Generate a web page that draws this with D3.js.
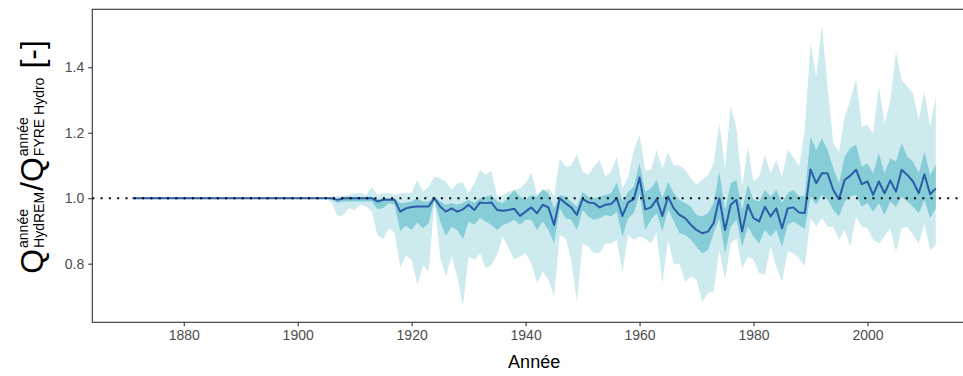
<!DOCTYPE html>
<html><head><meta charset="utf-8">
<script src="https://cdn.jsdelivr.net/npm/d3@7"></script>
<style>body{margin:0;background:#fff}svg{display:block}text{font-family:"Liberation Sans",Arial,sans-serif}</style>
</head><body><svg id="c" width="963" height="376"></svg>
<script>
const firstYear = 1871, lastYear = 2012;
const years = d3.range(firstYear, lastYear + 1);
const meanRatio = [
 1,1,1,1,1,1,1,1,1,1,
 1,1,1,1,1,1,1,1,1,1,
 1,1,1,1,1,1,1,1,1,1,
 1,1,1,1,1,1,0.995,1,1,1,
 1,1,1,0.99,0.995,0.995,0.995,0.959,0.969,0.973,
 0.975,0.975,0.975,1.0,0.975,0.959,0.969,0.959,0.966,0.98,
 0.964,0.987,0.985,0.987,0.964,0.962,0.964,0.968,0.946,0.959,
 0.972,0.954,0.98,0.972,0.918,1.0,0.985,0.972,0.949,0.998,
 0.987,0.985,0.972,0.98,0.982,1.0,0.946,0.987,0.997,1.063,
 0.966,0.972,0.997,0.946,1.005,0.969,0.949,0.939,0.919,0.903,
 0.893,0.898,0.924,1.0,0.903,0.98,0.995,0.898,0.98,0.939,
 0.929,0.974,0.944,0.969,0.908,0.969,0.972,0.956,0.955,1.088,
 1.046,1.076,1.076,1.025,0.997,1.056,1.069,1.087,1.043,1.051,
 1.01,1.051,1.015,1.054,1.02,1.087,1.071,1.051,1.015,1.073,
 1.012,1.03
];
const innerHigh = [
 1,1,1,1,1,1,1,1,1,1,
 1,1,1,1,1,1,1,1,1,1,
 1,1,1,1,1,1,1,1,1,1,
 1,1,1,1,1,1.0,0.998,1.003,1.003,1.003,
 1.003,1.003,1.005,0.995,1.0,1.0,1.0,0.985,0.987,0.99,
 1.0,0.99,0.99,1.005,0.99,0.98,0.985,0.98,0.985,0.995,
 0.985,1.0,1.005,1.01,0.99,0.985,1.005,1.025,1.005,0.995,
 1.01,1.005,1.027,1.015,0.969,1.01,1.005,0.99,0.974,1.02,
 1.005,1.0,1.005,1.01,1.015,1.048,0.99,1.02,1.036,1.107,
 1.02,1.03,1.056,1.0,1.05,1.015,0.995,0.985,0.974,0.949,
 0.944,0.954,0.985,1.081,0.964,1.046,1.056,0.964,1.041,0.995,
 0.99,1.025,1.005,1.025,0.985,1.015,1.025,1.005,1.008,1.188,
 1.147,1.183,1.147,1.092,1.046,1.127,1.153,1.163,1.097,1.107,
 1.076,1.137,1.076,1.122,1.112,1.168,1.127,1.112,1.076,1.142,
 1.071,1.102
];
const innerLow = [
 1,1,1,1,1,1,1,1,1,1,
 1,1,1,1,1,1,1,1,1,1,
 1,1,1,1,1,1,1,1,1,1,
 1,1,1,1,1,0.995,0.985,0.99,0.99,0.99,
 0.99,0.99,0.99,0.966,0.97,0.985,0.98,0.90,0.916,0.903,
 0.926,0.908,0.924,0.995,0.93,0.885,0.913,0.903,0.875,0.929,
 0.919,0.94,0.929,0.918,0.903,0.918,0.924,0.934,0.918,0.934,
 0.934,0.903,0.929,0.903,0.862,0.969,0.939,0.934,0.903,0.964,
 0.944,0.934,0.939,0.949,0.944,0.959,0.883,0.939,0.954,1.015,
 0.903,0.934,0.954,0.9,0.966,0.93,0.893,0.888,0.873,0.852,
 0.832,0.842,0.893,0.939,0.832,0.913,0.934,0.852,0.913,0.883,
 0.862,0.903,0.883,0.903,0.852,0.918,0.929,0.918,0.905,1.005,
 0.98,1.01,0.995,0.964,0.944,0.99,1.005,1.01,0.974,0.985,
 0.959,0.985,0.949,0.99,0.974,1.005,0.99,0.974,0.954,0.995,
 0.939,0.969
];
const outerHigh = [
 1,1,1,1,1,1,1,1,1,1,
 1,1,1,1,1,1,1,1,1,1,
 1,1,1,1,1,1,1,1,1,1,
 1,1,1,1,1,1.005,1.007,1.007,1.01,1.015,
 1.015,1.01,1.034,1.01,1.015,1.015,1.01,1.015,1.015,1.017,
 1.056,1.02,1.035,1.066,1.061,1.051,1.025,1.046,1.049,1.015,
 1.046,1.086,1.071,1.084,1.005,1.01,1.02,1.025,1.03,1.046,
 1.078,1.01,1.02,1.03,1.005,1.122,1.097,1.099,1.135,1.081,
 1.071,1.097,1.117,1.066,1.081,1.127,1.03,1.066,1.147,1.193,
 1.086,1.086,1.147,1.09,1.14,1.10,1.10,1.086,1.061,1.041,
 1.056,1.071,1.107,1.229,1.091,1.28,1.214,1.036,1.158,1.051,
 1.066,1.132,1.076,1.117,1.066,1.147,1.127,1.096,1.21,1.473,
 1.371,1.529,1.341,1.168,1.142,1.249,1.30,1.366,1.219,1.224,
 1.198,1.341,1.229,1.295,1.448,1.361,1.341,1.32,1.239,1.326,
 1.219,1.31
];
const outerLow = [
 1,1,1,1,1,1,1,1,1,1,
 1,1,1,1,1,1,1,1,1,1,
 1,1,1,1,1,1,1,1,1,1,
 1,1,1,1,1,0.985,0.944,0.949,0.969,0.964,
 0.98,0.975,0.959,0.888,0.875,0.908,0.895,0.791,0.824,0.812,
 0.735,0.796,0.776,0.99,0.82,0.761,0.822,0.761,0.669,0.822,
 0.812,0.832,0.786,0.796,0.827,0.883,0.847,0.812,0.822,0.832,
 0.801,0.740,0.776,0.751,0.70,0.888,0.878,0.812,0.684,0.862,
 0.852,0.832,0.832,0.862,0.862,0.873,0.776,0.888,0.873,0.883,
 0.878,0.862,0.893,0.74,0.873,0.80,0.80,0.745,0.761,0.751,
 0.684,0.71,0.715,0.842,0.751,0.862,0.878,0.786,0.822,0.812,
 0.771,0.766,0.852,0.791,0.745,0.837,0.832,0.817,0.793,0.939,
 0.913,0.939,0.913,0.913,0.873,0.903,0.852,0.944,0.913,0.908,
 0.873,0.862,0.883,0.908,0.837,0.908,0.913,0.888,0.862,0.923,
 0.842,0.857
];
const xTicks = [1880, 1900, 1920, 1940, 1960, 1980, 2000];
const yTicks = [0.8, 1.0, 1.2, 1.4];
const refValue = 1;

const svg = d3.select("#c");
const pL = 92.3, pT = 9.3, pR = 976, pB = 322.3;
const pad = (lastYear - firstYear) * 0.05;
const x = d3.scaleLinear().domain([firstYear - pad, lastYear + pad]).range([pL, pR]);
const y = d3.scaleLinear().domain([0.621, 1.577]).range([pB, pT]);

const rows = years.map((yr, i) => ({yr, m: meanRatio[i], iH: innerHigh[i], iL: innerLow[i], oH: outerHigh[i], oL: outerLow[i]}));

svg.append("path").datum(rows).attr("fill", "#cdebef")
  .attr("d", d3.area().x(d => x(d.yr)).y0(d => y(d.oL)).y1(d => y(d.oH)));
svg.append("path").datum(rows).attr("fill", "#86cdd7")
  .attr("d", d3.area().x(d => x(d.yr)).y0(d => y(d.iL)).y1(d => y(d.iH)));
svg.append("path").datum(rows).attr("fill", "none").attr("stroke", "#2a5ca8")
  .attr("stroke-width", 2).attr("stroke-linejoin", "round")
  .attr("d", d3.line().x(d => x(d.yr)).y(d => y(d.m)));
svg.append("line").attr("x1", pL).attr("x2", pR).attr("y1", y(refValue)).attr("y2", y(refValue))
  .attr("stroke", "#000").attr("stroke-width", 2).attr("stroke-dasharray", "2,6.3");

svg.append("rect").attr("x", pL).attr("y", pT).attr("width", pR - pL).attr("height", pB - pT)
  .attr("fill", "none").attr("stroke", "#333").attr("stroke-width", 1.1);

const gx = svg.append("g").attr("transform", `translate(0,${pB})`)
  .call(d3.axisBottom(x).tickValues(xTicks).tickFormat(d3.format("d")).tickSize(4).tickPadding(4));
const gy = svg.append("g").attr("transform", `translate(${pL},0)`)
  .call(d3.axisLeft(y).tickValues(yTicks).tickFormat(d3.format(".1f")).tickSize(4).tickPadding(4));
[gx, gy].forEach(g => {
  g.select(".domain").remove();
  g.selectAll(".tick line").attr("stroke", "#333").attr("stroke-width", 1.1);
  g.selectAll(".tick text").attr("fill", "#4d4d4d").style("font-size", "14px")
    .style("font-family", '"Liberation Sans",Arial,sans-serif');
});

svg.append("text").attr("x", (pL + pR) / 2).attr("y", 368).attr("text-anchor", "middle")
  .style("font-size", "18px").attr("fill", "#000").text("Année");

// y label
const cx = 43, cy = 157;
const lab = svg.append("g").attr("transform", `translate(${cx},${cy}) rotate(-90)`);
const inner = lab.append("g");
let pos = 0;
function big(t) {
  const e = inner.append("text").attr("x", pos).attr("y", 0).style("font-size", "32px").attr("fill", "#000").text(t);
  pos += e.node().getComputedTextLength();
}
function stack(sup, sub) {
  const a = inner.append("text").attr("x", pos).attr("y", -15).style("font-size", "14px").attr("fill", "#000").text(sup);
  const b = inner.append("text").attr("x", pos).attr("y", 1).style("font-size", "14px").attr("fill", "#000").text(sub);
  pos += Math.max(a.node().getComputedTextLength(), b.node().getComputedTextLength()) + 1;
}
big("Q"); pos += 1; stack("année", "HydREM"); big("/"); big("Q"); pos += 1; stack("année", "FYRE Hydro"); pos += 8; big("[-]");
inner.attr("transform", `translate(${-pos / 2},0)`);
</script></body></html>
